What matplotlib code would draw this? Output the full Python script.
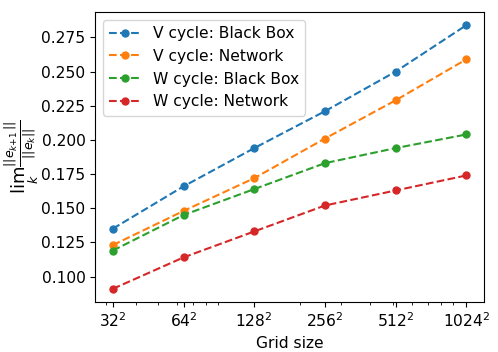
import numpy as np
import matplotlib.pyplot as plt

grid_n = [32, 64, 128, 256, 512, 1024]
tick_labels = [r'$32^2$', r'$64^2$', r'$128^2$', r'$256^2$', r'$512^2$', r'$1024^2$']

v_blackbox = [0.135, 0.166, 0.194, 0.221, 0.250, 0.284]
v_network = [0.123, 0.148, 0.172, 0.201, 0.229, 0.259]
w_blackbox = [0.119, 0.145, 0.164, 0.183, 0.194, 0.204]
w_network = [0.091, 0.114, 0.133, 0.152, 0.163, 0.174]

plt.rcParams['font.size'] = 11.2

fig, ax = plt.subplots(figsize=(4.98, 3.52), dpi=100)

ax.plot(grid_n, v_blackbox, 'o--', ms=5, label='V cycle: Black Box')
ax.plot(grid_n, v_network, 'o--', ms=5, label='V cycle: Network')
ax.plot(grid_n, w_blackbox, 'o--', ms=5, label='W cycle: Black Box')
ax.plot(grid_n, w_network, 'o--', ms=5, label='W cycle: Network')

ax.set_xscale('log')
ax.set_xticks(grid_n)
ax.set_xticklabels(tick_labels)
ax.set_xlabel('Grid size')
ax.set_ylabel(r'$\lim_k \frac{||e_{k+1}||}{||e_k||}$', fontsize=13)
ax.yaxis.set_label_coords(-0.14, 0.5)
ax.legend(loc='upper left')

plt.subplots_adjust(left=0.191, right=0.972, top=0.966, bottom=0.142)
plt.savefig('out.png')
